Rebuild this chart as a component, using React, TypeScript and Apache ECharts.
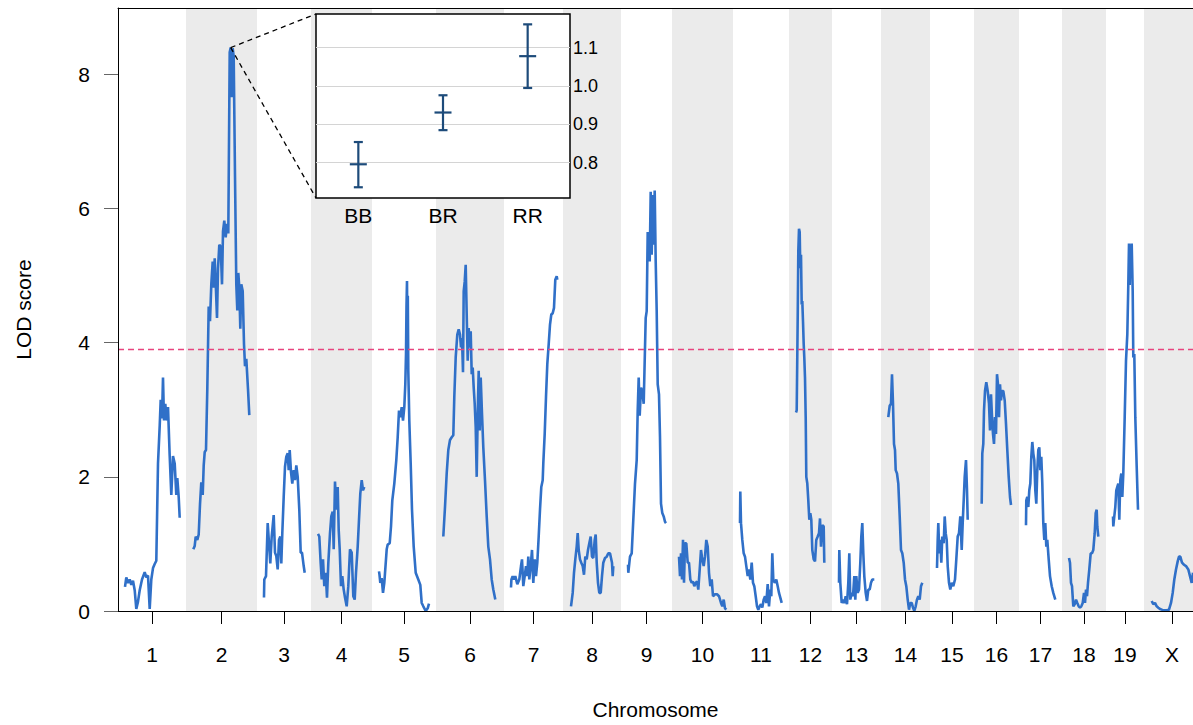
import React, { useEffect, useRef } from "react";
import * as echarts from "echarts";

// ---- genome layout (chromosome lengths, cM-like units) ----
const chrNames = ["1","2","3","4","5","6","7","8","9","10","11","12","13","14","15","16","17","18","19","X"];
const chrLengths = [54, 57, 40, 47, 50, 54, 45, 44, 37, 47, 42, 29, 35, 35, 30, 31, 29, 30, 24, 42];
const chrGap = 14;

// ---- LOD scores per chromosome: [position within chromosome, LOD] ----
const chr1: [number, number][] = [[0,0.36],[1.3,0.5],[3,0.42],[4.7,0.47],[6.3,0.39],[8,0.45],[9.7,0.31],[11.3,0.03],[13,0.14],[14.7,0.31],[17,0.47],[19.7,0.58],[21.3,0.5],[23,0.53],[24.7,0.03],[26.3,0.47],[28,0.64],[29.7,0.7],[31.3,0.75],[33,2.2],[34.7,2.76],[35.7,3.15],[37,2.87],[38,3.48],[39,2.84],[40.3,3.09],[41.7,2.84],[43,3.04],[44.7,2.31],[46.3,1.73],[48,2.31],[49.7,2.2],[51.3,1.73],[52.3,1.98],[53.7,1.7],[54.7,1.39]];
const chr2: [number, number][] = [[0.3,0.92],[1.7,0.97],[2.7,1.11],[4.3,1.06],[5.7,1.14],[7,1.59],[8.3,1.92],[9.7,1.73],[10.7,2.17],[11.7,2.37],[13,2.4],[14.3,3.31],[15.7,4.54],[17,4.32],[18.3,4.87],[19.7,5.21],[20.7,4.82],[21.7,5.26],[23,4.77],[24,4.37],[25,5.1],[26.3,5.46],[27.7,5.43],[29,4.87],[30,5.66],[31.3,5.82],[32.7,5.57],[34,5.77],[35.3,5.63],[36.7,8.33],[37.7,8.4],[38.7,7.66],[39.7,8.39],[40.7,8.27],[42,6.49],[43.3,4.87],[44.3,4.48],[45.3,5.04],[46.3,4.82],[47.3,4.21],[48.3,4.87],[49.7,4.77],[51,3.98],[52,3.65],[53.3,3.76],[55,3.31],[56.3,2.92]];
const chr3: [number, number][] = [[0,0.2],[0.3,0.47],[2,0.52],[3.7,1.31],[5,1.01],[6.3,0.71],[7.7,1.11],[9.7,1.43],[11,0.87],[12.3,0.82],[13.7,0.62],[15,1.06],[16.3,1.11],[17.3,0.71],[18.3,1.16],[19.7,1.7],[21,2.15],[22.3,2.3],[23.7,2.35],[24.7,2.1],[25.7,2.4],[27,2.07],[28.3,1.9],[29.7,2.1],[31,1.95],[32.3,2.17],[33.7,2.0],[35.3,1.51],[36.7,0.87],[38,0.87],[39.7,0.67],[40.7,0.57]];
const chr4: [number, number][] = [[0,1.15],[1.3,1.11],[2.7,0.71],[3.7,0.47],[5,0.77],[6.3,0.37],[7.7,0.57],[9,0.2],[10.3,0.71],[12,1.16],[13.3,1.41],[14.7,1.48],[15.7,0.92],[17,1.93],[18.3,1.51],[19.7,1.85],[20.7,1.21],[21.7,0.92],[23,0.37],[24.3,0.52],[25.7,0.32],[27,0.2],[28.7,0.07],[30.3,0.37],[32,0.92],[33.7,0.87],[35.3,0.22],[36.7,0.17],[38,0.57],[39.7,0.96],[41,1.36],[42.3,1.75],[43.7,1.95],[45,1.8],[46.3,1.85]];
const chr5: [number, number][] = [[0,0.59],[0.5,0.54],[1.3,0.42],[2.7,0.49],[4,0.27],[5.3,0.42],[6.7,0.71],[7.7,0.92],[8.7,0.99],[10.7,1.01],[12,1.26],[13.3,1.65],[15.3,1.9],[17.3,2.25],[18.7,2.59],[20,2.99],[21.3,2.89],[22.7,3.04],[24,2.84],[25.3,3.04],[26.3,3.38],[27,3.83],[27.5,4.55],[28,4.92],[28.4,3.95],[28.8,4.7],[29.3,3.58],[30.3,2.84],[31.7,2.2],[33,1.51],[34.7,0.96],[36.7,0.57],[39.3,0.47],[41.3,0.39],[42.7,0.12],[44.3,0.07],[46.7,0.0],[48.7,0.04],[50,0.11]];
const chr6: [number, number][] = [[0.3,1.11],[2,1.55],[3.7,2.05],[5.3,2.4],[7,2.55],[8.7,2.59],[10.3,2.62],[11.3,3.19],[12.7,3.78],[14.3,4.12],[15.7,4.2],[17,4.12],[18,3.93],[19,4.07],[20,3.56],[20.7,4.77],[21.7,4.91],[22.7,5.16],[23.7,4.42],[24.7,3.73],[25.7,4.22],[26.7,3.93],[27.7,4.17],[28.7,3.53],[29.7,3.63],[30.7,3.33],[31.7,3.09],[32.7,2.74],[33.7,2.0],[34.7,2.94],[35.7,3.58],[36.7,2.69],[37.7,3.48],[39,2.94],[40.3,2.44],[42,1.95],[43.7,1.41],[45.3,0.96],[47,0.77],[48.7,0.47],[50.3,0.32],[52.3,0.17]];
const chr7: [number, number][] = [[0,0.35],[0.4,0.47],[1.7,0.52],[3,0.47],[4.3,0.52],[6.3,0.4],[8.3,0.47],[10,0.67],[11,0.77],[12.3,0.37],[13.7,0.52],[15,0.67],[16.3,0.52],[17.3,0.81],[18.3,0.47],[19.7,0.67],[21,0.91],[22.3,0.42],[23.7,0.77],[25,0.52],[26.3,0.72],[27.7,1.11],[29,1.51],[30.3,1.85],[31.7,1.95],[32.3,2.2],[33.7,2.64],[35,3.19],[36.3,3.68],[37.7,3.98],[39,4.27],[40.3,4.42],[41.7,4.44],[43,4.52],[44.3,4.94],[45.7,4.99],[46.3,4.94]];
const chr8: [number, number][] = [[1,0.07],[2.7,0.27],[4,0.57],[5.3,0.77],[6.7,0.96],[7.7,1.16],[8.7,0.91],[10,0.77],[11.3,0.72],[12.7,0.67],[14,0.54],[15.3,0.81],[16.7,0.77],[18,0.91],[19.3,1.01],[20.7,1.11],[22,0.81],[23.3,0.79],[24.7,1.06],[25.7,1.14],[26.7,0.72],[28,0.42],[29.3,0.27],[30.7,0.27],[32,0.52],[33.3,0.72],[35,0.79],[36.7,0.81],[38.3,0.86],[40,0.86],[42,0.72],[42.7,0.52],[43.3,0.67]];
const chr9: [number, number][] = [[0,0.69],[0.3,0.57],[2,0.81],[3.7,0.86],[5.3,1.36],[7,1.9],[8.7,2.25],[9.7,2.99],[10.7,3.48],[11.7,2.91],[13,3.33],[14.3,3.28],[15.7,3.09],[16.7,3.73],[17.7,4.37],[18.7,4.47],[19.7,5.65],[20.7,5.46],[21.7,5.21],[22.7,6.25],[23.7,5.31],[24.7,6.2],[25.7,5.46],[26.7,6.27],[27.7,5.21],[28.7,4.47],[29.7,3.38],[31,3.23],[32,2.59],[33,1.6],[34.3,1.46],[35.7,1.41],[37,1.33],[38,1.31]];
const chr10: [number, number][] = [[0,0.81],[1,0.52],[2,0.86],[3,0.47],[4,1.06],[5,0.42],[6,1.01],[7.3,1.01],[8.7,0.72],[10,0.72],[11.3,0.47],[12.7,0.42],[14,0.44],[15.3,0.37],[16.7,0.42],[18,0.44],[19.3,0.32],[20.7,0.62],[22,0.91],[23.3,0.77],[24.7,0.67],[26,0.81],[27.3,1.06],[28.7,0.96],[30,0.57],[31.3,0.37],[32.7,0.47],[34,0.22],[36,0.25],[38,0.25],[40,0.22],[42,0.12],[43.3,0.07],[44.7,0.17],[46,0.04],[47.3,0.02]];
const chr11: [number, number][] = [[0,1.31],[0.3,1.78],[1,1.31],[2.3,1.06],[3.7,0.86],[5,0.81],[6.3,0.67],[7.7,0.52],[9,0.62],[10.3,0.47],[11.7,0.72],[13,0.42],[14.3,0.37],[15.7,0.22],[17,0.07],[18.3,0.02],[19.7,0.07],[21,0.1],[22.3,0.05],[23.7,0.17],[25,0.22],[26.3,0.12],[27.7,0.4],[29,0.07],[30.3,0.32],[31.3,0.22],[32.3,0.86],[33.3,0.47],[34.7,0.42],[36.3,0.47],[37.7,0.37],[39,0.27],[40.3,0.2],[41.7,0.12]];
const chr12: [number, number][] = [[0,2.96],[0.7,2.99],[1.7,4.37],[2.3,5.36],[3,5.7],[3.7,5.65],[4.3,5.11],[5,5.31],[5.7,4.57],[6.3,4.62],[7,4.32],[7.7,3.98],[8.3,3.78],[9,3.48],[9.7,2.89],[10.3,2.0],[11.3,1.9],[12.3,1.65],[13.3,1.36],[14.3,1.46],[15.3,1.36],[16.3,0.91],[17.7,0.77],[19,0.74],[20.3,1.06],[21.7,1.11],[23,1.16],[24,1.38],[25,0.96],[26.3,1.28],[27.7,1.26],[28.3,0.72]];
const chr13: [number, number][] = [[0,0.42],[0.3,0.91],[1.3,0.42],[2.7,0.12],[4,0.17],[5.3,0.12],[6.7,0.22],[8,0.1],[9.3,0.42],[10.3,0.86],[11.3,0.17],[12.7,0.27],[14,0.22],[15.3,0.52],[16.3,0.17],[17.3,0.52],[18.7,0.27],[20,0.32],[21.3,0.72],[22.3,1.11],[23.3,1.31],[24.3,0.86],[25.3,0.52],[26.7,0.27],[28,0.15],[29.3,0.32],[30.7,0.32],[32,0.42],[33.3,0.47],[35.3,0.47]];
const chr14: [number, number][] = [[0.3,2.89],[1.7,3.06],[3,3.09],[4,3.53],[5,3.09],[6,2.49],[7,2.4],[7.7,2.1],[9,2.05],[10.3,1.9],[11.7,1.41],[13,0.91],[14.3,0.86],[15.7,0.72],[17,0.47],[18.3,0.37],[19.7,0.17],[21,0.02],[22.3,0.12],[23.7,0.12],[25,0.05],[26.3,0.0],[27.7,0.07],[29,0.17],[30.3,0.22],[31.7,0.17],[33,0.37],[34.3,0.42]];
const chr15: [number, number][] = [[0,0.64],[0.7,1.06],[1.3,1.31],[2.3,0.86],[3.3,1.06],[4.3,0.72],[5.3,1.11],[6.7,1.01],[7.7,1.41],[8.7,1.16],[9.7,1.06],[10.7,0.67],[12,0.42],[13.3,0.32],[14.7,0.42],[16.3,0.37],[18,0.47],[19.3,0.77],[20.7,1.11],[22,1.16],[23.3,1.41],[24.7,0.91],[25.7,1.31],[26.7,1.65],[27.7,2.0],[29,2.25],[30,1.8],[30.7,1.36]];
const chr16: [number, number][] = [[0.7,1.6],[1.3,2.35],[2.3,2.49],[3,2.99],[4,3.28],[5.3,3.41],[6.7,3.28],[8,3.09],[9,2.69],[10,3.23],[11,2.89],[12,2.64],[13,2.49],[14,2.89],[15,2.64],[16,3.53],[17,3.38],[18,2.89],[19,3.38],[20,3.14],[21,3.28],[22.3,3.28],[23.7,3.14],[25,2.79],[26.3,2.4],[27.7,2.0],[29,1.7],[30,1.58]];
const chr17: [number, number][] = [[0,1.28],[0.3,1.65],[1.3,1.7],[2.3,1.55],[3.3,1.8],[4.3,1.9],[5.3,2.3],[6.3,2.52],[7.3,2.35],[8.3,2.25],[9.3,1.8],[10.3,1.6],[11.3,2.1],[12.3,2.4],[13.3,2.44],[14.3,2.1],[15.3,2.3],[16.3,1.9],[17.3,1.31],[18.3,1.06],[19.3,1.31],[20.3,0.96],[21.3,1.06],[22.7,0.77],[24,0.52],[25.7,0.37],[27.3,0.27],[29.3,0.17]];
const chr18: [number, number][] = [[0,0.79],[1,0.72],[2,0.42],[3,0.37],[4.3,0.07],[5.7,0.1],[7,0.17],[8.3,0.12],[9.7,0.07],[11,0.05],[12.3,0.07],[13.7,0.12],[15,0.27],[16,0.12],[17,0.32],[18,0.22],[19,0.42],[20.3,0.62],[21.7,0.86],[23,0.86],[24.3,0.91],[25.7,1.16],[26.7,1.46],[27.7,1.51],[28.3,1.26],[29.3,1.11]];
const chr19: [number, number][] = [[0,1.41],[0.3,1.26],[1.3,1.41],[2.3,1.55],[3.3,1.8],[4.3,1.85],[5.3,1.9],[6.3,1.36],[7.3,1.95],[8.3,2.05],[9.3,1.7],[10.3,2.05],[11.7,2.89],[13,3.73],[14.3,4.12],[15.3,4.86],[16,5.48],[16.7,4.86],[17.3,5.46],[18,5.01],[18.7,5.48],[19.7,4.77],[20.3,3.78],[21.3,3.83],[22.3,2.89],[23.7,2.15],[25,1.51]];
const chrX: [number, number][] = [[0.7,0.15],[2.3,0.1],[4,0.12],[5.7,0.07],[7.3,0.05],[9,0.03],[10.7,0.02],[12.3,0.01],[15.7,0.01],[18,0.02],[20,0.12],[21.7,0.27],[23.3,0.47],[25,0.62],[26.7,0.74],[28,0.81],[29.3,0.81],[31,0.72],[33,0.69],[35,0.67],[37.3,0.62],[39,0.52],[40.7,0.42],[42,0.57]];
const lodByChr = [chr1, chr2, chr3, chr4, chr5, chr6, chr7, chr8, chr9, chr10, chr11, chr12, chr13, chr14, chr15, chr16, chr17, chr18, chr19, chrX];

const threshold = 3.9;
const yTicks = [0, 2, 4, 6, 8];
const yMax = 8.99;

// ---- inset: estimated effects at the chr 2 peak ----
const genotypes = ["BB", "BR", "RR"];
const effectMean = [0.796, 0.931, 1.078];
const effectLow = [0.736, 0.885, 0.995];
const effectHigh = [0.854, 0.976, 1.161];
const insetTicks = [0.8, 0.9, 1.0, 1.1];
const insetMin = 0.708;
const insetMax = 1.188;

const FONT = "'Liberation Sans', Arial, sans-serif";
const LINE_COLOR = "#3070c8";

export default function App() {
  const ref = useRef<HTMLDivElement>(null);
  useEffect(() => {
    if (!ref.current) return;
    const chart = echarts.init(ref.current, undefined, { renderer: "svg" });

    const chrStart: number[] = [];
    let acc = 0;
    chrLengths.forEach((L) => {
      chrStart.push(acc + chrGap / 2);
      acc += L + chrGap;
    });
    // the plot ends where the last chromosome (X) ends
    const xMax = acc - chrGap / 2;
    const chrCenter = chrStart.map((s, i) => s + chrLengths[i] / 2);
    const bands: any[] = [];
    chrLengths.forEach((L, i) => {
      if (i % 2 === 1) {
        bands.push([
          { xAxis: chrStart[i] - chrGap / 2, yAxis: 0 },
          { xAxis: Math.min(xMax, chrStart[i] + L + chrGap / 2), yAxis: yMax },
        ]);
      }
    });
    const nameAt = (v: number) => {
      let best = 0;
      chrCenter.forEach((c, i) => {
        if (Math.abs(c - v) < Math.abs(chrCenter[best] - v)) best = i;
      });
      return chrNames[best];
    };

    const lodSeries: any[] = lodByChr.map((pts, i) => {
      const s: any = {
        type: "line",
        xAxisIndex: 0,
        yAxisIndex: 0,
        data: pts.map(([p, l]) => [chrStart[i] + p, l]),
        showSymbol: false,
        symbol: "none",
        lineStyle: { color: LINE_COLOR, width: 2.6 },
        z: 3,
        silent: true,
      };
      if (i === 0) {
        s.markArea = {
          silent: true,
          itemStyle: { color: "#ebebeb" },
          data: bands,
          z: 1,
        };
        s.markLine = {
          silent: true,
          symbol: "none",
          label: { show: false },
          lineStyle: { color: "#e8437e", type: [6, 4], width: 1.3, opacity: 1 },
          data: [{ yAxis: threshold }],
        };
      }
      return s;
    });

    const insetLeft = 316, insetTop = 14, insetW = 254, insetH = 184;

    chart.setOption({
      animation: false,
      textStyle: { fontFamily: FONT },
      grid: [
        { left: 118, right: 0, top: 8, bottom: 110, show: false },
        {
          left: insetLeft, top: insetTop, width: insetW, height: insetH,
          show: true, backgroundColor: "#ffffff", borderColor: "#000", borderWidth: 1.5, z: 20,
        },
      ],
      xAxis: [
        {
          gridIndex: 0, type: "value", min: 0, max: xMax, z: 10,
          axisLine: { show: true, onZero: false, lineStyle: { color: "#000", width: 1 } },
          axisTick: { show: true, customValues: chrCenter, length: 13, lineStyle: { color: "#000" } },
          axisLabel: {
            customValues: chrCenter, formatter: (v: number) => nameAt(v),
            fontSize: 21, color: "#000", margin: 33, fontFamily: FONT,
          },
          splitLine: { show: false },
          name: "Chromosome", nameLocation: "middle", nameGap: 88,
          nameTextStyle: { fontSize: 21, color: "#000", fontFamily: FONT },
        },
        {
          gridIndex: 0, type: "value", position: "top", min: 0, max: xMax, z: 10,
          axisLine: { show: true, onZero: false, lineStyle: { color: "#000", width: 1 } },
          axisTick: { show: false }, axisLabel: { show: false }, splitLine: { show: false },
        },
        {
          gridIndex: 1, type: "category", data: genotypes, z: 25,
          axisLine: { show: false }, axisTick: { show: false },
          axisLabel: { fontSize: 21, color: "#000", margin: 7, fontFamily: FONT },
          splitLine: { show: false },
        },
      ],
      yAxis: [
        {
          gridIndex: 0, type: "value", min: 0, max: yMax, z: 10,
          axisLine: { show: true, onZero: false, lineStyle: { color: "#000", width: 1 } },
          axisTick: { show: true, customValues: yTicks, length: 14, lineStyle: { color: "#666" } },
          axisLabel: { customValues: yTicks, fontSize: 21, color: "#000", margin: 28, fontFamily: FONT },
          splitLine: { show: false },
          name: "LOD score", nameLocation: "middle", nameGap: 84, nameRotate: 90,
          nameTextStyle: { fontSize: 21, color: "#000", fontFamily: FONT },
        },
        {
          gridIndex: 1, type: "value", position: "right", min: insetMin, max: insetMax, z: 25,
          axisLine: { show: false }, axisTick: { show: false },
          axisLabel: {
            customValues: insetTicks, formatter: (v: number) => v.toFixed(1),
            fontSize: 18, color: "#000", margin: 3, fontFamily: FONT,
          },
          splitLine: {
            show: true, showMinLine: false, showMaxLine: false,
            lineStyle: { color: "#d4d4d4", width: 1.2 },
          },
        },
      ],
      series: [
        ...lodSeries,
        {
          type: "custom", xAxisIndex: 2, yAxisIndex: 1, z: 30, silent: true,
          data: genotypes.map((g, i) => [i, effectMean[i], effectLow[i], effectHigh[i]]),
          encode: { x: 0, y: [1, 2, 3] },
          renderItem: (params: any, api: any) => {
            const i = api.value(0);
            const pm = api.coord([i, api.value(1)]);
            const pl = api.coord([i, api.value(2)]);
            const ph = api.coord([i, api.value(3)]);
            const style = { stroke: "#1d4b7a", lineWidth: 2.2, fill: null };
            const cap = 4.5, half = 8.5;
            return {
              type: "group",
              children: [
                { type: "line", shape: { x1: pm[0], y1: pl[1], x2: pm[0], y2: ph[1] }, style },
                { type: "line", shape: { x1: pm[0] - cap, y1: ph[1], x2: pm[0] + cap, y2: ph[1] }, style },
                { type: "line", shape: { x1: pm[0] - cap, y1: pl[1], x2: pm[0] + cap, y2: pl[1] }, style },
                { type: "line", shape: { x1: pm[0] - half, y1: pm[1], x2: pm[0] + half, y2: pm[1] }, style },
              ],
            };
          },
        },
      ],
    });

    // connector lines from the chr 2 peak to the inset
    let bi = 0;
    chr2.forEach((p, k) => { if (p[1] > chr2[bi][1]) bi = k; });
    const peak = chart.convertToPixel({ xAxisIndex: 0, yAxisIndex: 0 }, [chrStart[1] + chr2[bi][0], chr2[bi][1]]) as number[];
    const dash = { stroke: "#000", lineWidth: 1.3, lineDash: [5, 4] };
    chart.setOption({
      graphic: [
        { type: "line", z: 40, shape: { x1: peak[0], y1: peak[1], x2: insetLeft, y2: insetTop }, style: dash },
        { type: "line", z: 40, shape: { x1: peak[0], y1: peak[1], x2: insetLeft, y2: insetTop + insetH }, style: dash },
      ],
    });

    return () => chart.dispose();
  }, []);

  return (
    <div
      ref={ref}
      style={{ position: "fixed", left: 0, top: 0, width: 1193, height: 725, background: "#fff" }}
    />
  );
}
